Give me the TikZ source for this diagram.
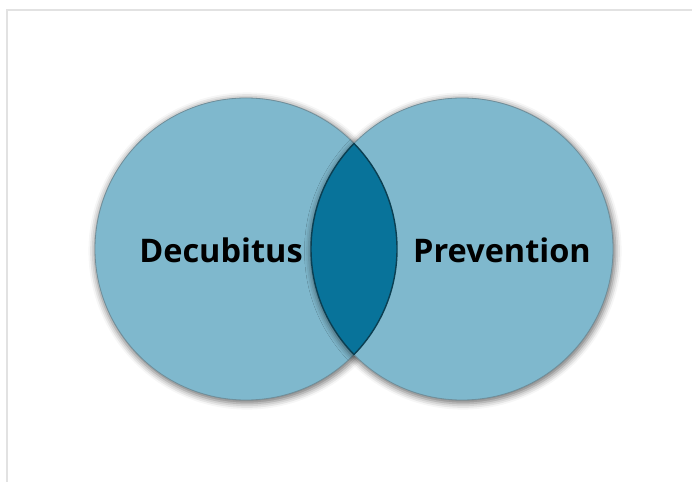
\documentclass[tikz,border=0pt]{standalone}
\usepackage{fontspec}
\setmainfont{Open Sans}
\usetikzlibrary{shadows.blur}

\definecolor{setfill}{HTML}{7FB8CD}
\definecolor{setedge}{HTML}{6F8E9A}
\definecolor{lensfill}{HTML}{08739A}
\definecolor{lensedge}{HTML}{0B3F52}
\definecolor{framegray}{HTML}{E2E2E2}

\tikzset{
  setcircle/.style={circle, minimum size=302pt, inner sep=0pt, fill=setfill,
    draw=setedge, line width=0.8pt,
    blur shadow={shadow xshift=1pt, shadow yshift=-2pt, shadow scale=1.01, shadow blur radius=6pt, shadow opacity=55}},
  setlabel/.style={font=\bfseries\fontsize{32.5}{38}\selectfont, text=black}
}

\begin{document}
\begin{tikzpicture}[x=1pt, y=1pt]

\useasboundingbox (0,0) rectangle (692,482);

% frame
\draw[framegray, line width=2pt] (7,0) -- (7,472) -- (692,472);

% the two sets
\node[setcircle] (D) at (246,233) {};
\node[setcircle] (P) at (462,233) {};

% overlap
\begin{scope}
\clip (D.center) circle (151);
\fill[lensfill] (P.center) circle (151);
\end{scope}
\begin{scope}
\clip (D.center) circle (151);
\draw[lensedge, line width=1.4pt] (P.center) circle (151);
\end{scope}
\begin{scope}
\clip (P.center) circle (151);
\draw[lensedge, line width=1.4pt] (D.center) circle (151);
\end{scope}

\node[setlabel] (Dlabel) at (221,232) {Decubitus};
\node[setlabel] (Plabel) at (502,232) {Prevention};

\end{tikzpicture}
\end{document}
